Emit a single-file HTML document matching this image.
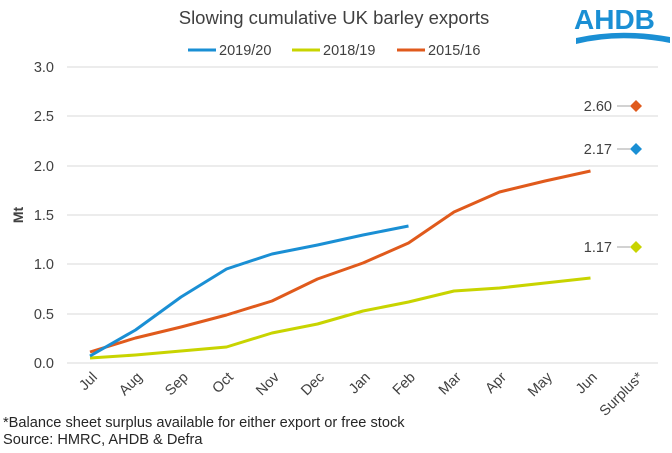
<!DOCTYPE html>
<html><head><meta charset="utf-8"><style>body{margin:0;background:#fff}svg{display:block}</style></head>
<body>
<svg width="672" height="453" xmlns="http://www.w3.org/2000/svg" font-family="Liberation Sans, sans-serif">
<text x="334" y="24" font-size="18.5" fill="#404040" text-anchor="middle">Slowing cumulative UK barley exports</text>
<text x="574" y="29" font-size="28" font-weight="bold" fill="#1a8fd4">AHDB</text>
<path d="M576 38 Q620 28 670 37 L670 43 Q620 33 576 44 Z" fill="#1a8fd4"/>
<g font-size="14.5" fill="#404040">
<line x1="188" y1="50" x2="216" y2="50" stroke="#1a8fd4" stroke-width="3"/><text x="219" y="55">2019/20</text>
<line x1="292" y1="50" x2="320" y2="50" stroke="#c8d400" stroke-width="3"/><text x="323" y="55">2018/19</text>
<line x1="397" y1="50" x2="425" y2="50" stroke="#e05a1c" stroke-width="3"/><text x="428" y="55">2015/16</text>
</g>
<g stroke="#d9d9d9" stroke-width="1">
<line x1="67" x2="658" y1="67" y2="67"/><line x1="67" x2="658" y1="116" y2="116"/><line x1="67" x2="658" y1="166" y2="166"/><line x1="67" x2="658" y1="215" y2="215"/><line x1="67" x2="658" y1="264" y2="264"/><line x1="67" x2="658" y1="314" y2="314"/><line x1="67" x2="658" y1="363" y2="363"/>
</g>
<g font-size="14.5" fill="#404040" text-anchor="end">
<text x="54" y="72">3.0</text><text x="54" y="121">2.5</text><text x="54" y="171">2.0</text><text x="54" y="220">1.5</text><text x="54" y="269">1.0</text><text x="54" y="319">0.5</text><text x="54" y="368">0.0</text>
</g>
<text transform="translate(23,215) rotate(-90)" font-size="14" font-weight="bold" fill="#404040" text-anchor="middle">Mt</text>
<g font-size="14.5" fill="#404040" text-anchor="end">
<text transform="translate(98,378) rotate(-45)">Jul</text>
<text transform="translate(143,378) rotate(-45)">Aug</text>
<text transform="translate(189,378) rotate(-45)">Sep</text>
<text transform="translate(234,378) rotate(-45)">Oct</text>
<text transform="translate(280,378) rotate(-45)">Nov</text>
<text transform="translate(325,378) rotate(-45)">Dec</text>
<text transform="translate(371,378) rotate(-45)">Jan</text>
<text transform="translate(416,378) rotate(-45)">Feb</text>
<text transform="translate(462,378) rotate(-45)">Mar</text>
<text transform="translate(507,378) rotate(-45)">Apr</text>
<text transform="translate(553,378) rotate(-45)">May</text>
<text transform="translate(598,378) rotate(-45)">Jun</text>
<text transform="translate(644,378) rotate(-45)">Surplus*</text>
</g>
<g fill="none" stroke-width="3" stroke-linejoin="round">
<polyline stroke="#c8d400" points="90,358 135.5,355 181,351 226.5,347 272,333 317.5,324 363,311 408.5,302 454,291 499.5,288 545,283 590.5,278"/>
<polyline stroke="#e05a1c" points="90,352 135.5,338 181,327 226.5,315 272,301 317.5,279 363,263 408.5,243 454,212 499.5,192 545,181 590.5,171"/>
<polyline stroke="#1a8fd4" points="90,356 135.5,330 181,297 226.5,269 272,254 317.5,245 363,235 408.5,226"/>
</g>
<g font-size="14.5" fill="#404040" text-anchor="end">
<line x1="617" y1="106" x2="630" y2="106" stroke="#a6a6a6"/><text x="612" y="111">2.60</text>
<line x1="617" y1="149" x2="630" y2="149" stroke="#a6a6a6"/><text x="612" y="154">2.17</text>
<line x1="617" y1="247" x2="630" y2="247" stroke="#a6a6a6"/><text x="612" y="252">1.17</text>
</g>
<path d="M636 100 L642 106 L636 112 L630 106 Z" fill="#e05a1c"/>
<path d="M636 143 L642 149 L636 155 L630 149 Z" fill="#1a8fd4"/>
<path d="M636 241 L642 247 L636 253 L630 247 Z" fill="#c8d400"/>
<g font-size="14.6" fill="#262626">
<text x="3" y="427">*Balance sheet surplus available for either export or free stock</text>
<text x="3" y="444">Source: HMRC, AHDB &amp; Defra</text>
</g>
</svg>
</body></html>
